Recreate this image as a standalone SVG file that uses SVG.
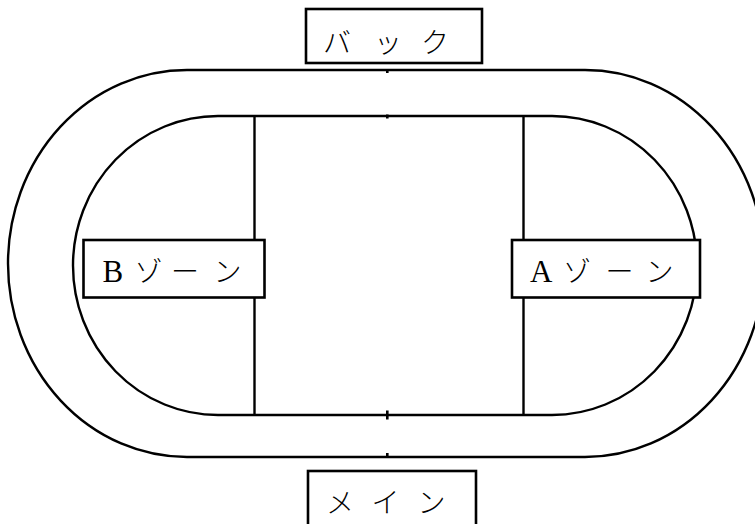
<svg xmlns="http://www.w3.org/2000/svg" width="755" height="524" viewBox="0 0 755 524">
<style>
.trk{fill:none;stroke:#000;stroke-width:2.4}
.box{fill:#fff;stroke:#000;stroke-width:2.6}
.lbl{font-family:"Noto Sans CJK JP","Liberation Serif",sans-serif;font-size:28px;font-weight:300;fill:#000}
.lat{font-family:"Liberation Serif",serif;font-size:31px;font-weight:400}
</style>
<rect width="755" height="524" fill="#fff"/>
<g id="track">
<path class="trk" d="M187 70H585A179 193.5 0 0 1 585 457H187A179 193.5 0 0 1 187 70Z"/>
<path class="trk" d="M218 116H552A145 149.5 0 0 1 552 415H218A145 149.5 0 0 1 218 116Z"/>
<rect x="386" y="70" width="2.6" height="3" fill="#000"/>
<rect x="386" y="114.5" width="2.6" height="4" fill="#000"/>
<rect x="386" y="410.5" width="2.6" height="9" fill="#000"/>
<rect x="386" y="453" width="2.6" height="4" fill="#000"/>
</g>
<g id="connectors">
<line class="trk" x1="254.5" y1="116" x2="254.5" y2="415"/>
<line class="trk" x1="523.5" y1="116" x2="523.5" y2="415"/>
</g>
<g id="back">
<rect class="box" x="306" y="9" width="176" height="54"/>
<text class="lbl" x="323 374 421" y="53">バック</text>
</g>
<g id="main">
<rect class="box" x="308" y="471" width="168" height="60"/>
<text class="lbl" x="326 371.5 417.5" y="513">メイン</text>
</g>
<g id="bzone">
<rect class="box" x="83.5" y="240" width="181" height="57.5"/>
<text class="lbl" y="283"><tspan class="lat" x="102.5" y="282">B</tspan><tspan x="134.5 171 213.5">ゾーン</tspan></text>
</g>
<g id="azone">
<rect class="box" x="512" y="240" width="188" height="57.5"/>
<text class="lbl" y="283"><tspan class="lat" x="530" y="282">A</tspan><tspan x="563 605.5 645.5">ゾーン</tspan></text>
</g>
</svg>
